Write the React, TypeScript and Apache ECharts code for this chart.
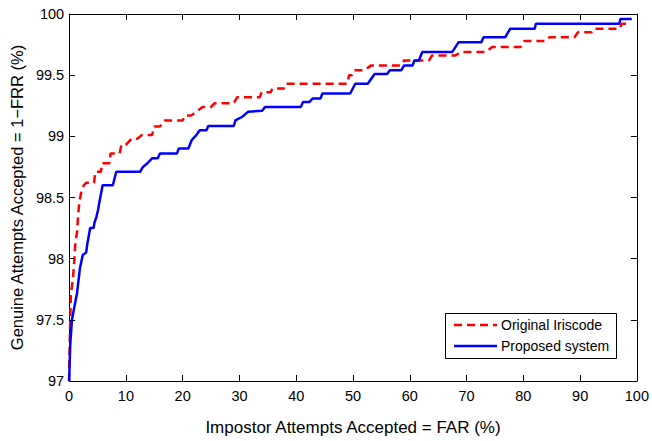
import React, { useEffect, useRef } from "react";
import * as echarts from "echarts";

const seriesNames = ["Original Iriscode", "Proposed system"];
const xTicks = [0, 10, 20, 30, 40, 50, 60, 70, 80, 90, 100];
const yTicks = [97, 97.5, 98, 98.5, 99, 99.5, 100];

const originalFAR = [0, 0.1, 0.3, 0.7, 0.9, 1.1, 1.4, 1.6, 1.8, 2.2, 2.6, 3.0, 4.4, 4.6, 5.6, 5.8, 7.1, 7.3, 8.9, 9.2, 10.0, 11.0, 12.0, 12.8, 14.6, 15.0, 16.0, 16.8, 20.0, 20.4, 21.5, 23.5, 25.0, 25.6, 29.0, 29.6, 33.6, 33.9, 35.5, 35.8, 37.8, 38.1, 49.0, 49.3, 49.8, 50.2, 52.0, 53.2, 58.4, 59.0, 63.4, 63.9, 68.0, 69.0, 73.4, 74.5, 79.5, 80.2, 84.0, 84.6, 89.0, 89.6, 92.0, 92.5, 97.0, 97.3, 98.8];
const originalGAR = [97.0, 97.3, 97.7, 97.85, 97.98, 98.13, 98.22, 98.36, 98.46, 98.56, 98.6, 98.62, 98.62, 98.71, 98.71, 98.78, 98.78, 98.86, 98.86, 98.93, 98.93, 98.98, 98.98, 99.01, 99.01, 99.08, 99.08, 99.13, 99.13, 99.17, 99.17, 99.24, 99.24, 99.27, 99.27, 99.32, 99.32, 99.36, 99.36, 99.39, 99.39, 99.43, 99.43, 99.5, 99.5, 99.54, 99.54, 99.58, 99.58, 99.62, 99.62, 99.66, 99.66, 99.69, 99.69, 99.73, 99.73, 99.78, 99.78, 99.81, 99.81, 99.85, 99.85, 99.88, 99.88, 99.92, 99.92];

const proposedFAR = [0, 0.2, 0.5, 0.9, 1.4, 1.9, 2.4, 3.0, 3.2, 3.4, 3.7, 4.3, 4.5, 4.8, 5.1, 5.4, 5.9, 7.7, 8.3, 12.5, 13.0, 13.8, 14.6, 15.6, 16.0, 19.0, 19.3, 21.0, 21.6, 22.4, 23.0, 24.2, 24.5, 29.0, 29.3, 30.5, 31.5, 34.0, 34.5, 40.8, 41.2, 42.3, 42.9, 44.3, 44.6, 49.5, 50.4, 52.6, 53.8, 56.0, 56.5, 58.5, 59.0, 60.5, 60.8, 61.6, 62.2, 67.5, 68.6, 72.6, 73.0, 76.8, 77.7, 82.0, 82.2, 96.9, 97.1, 99.1];
const proposedGAR = [97.0, 97.3, 97.5, 97.6, 97.72, 97.92, 98.03, 98.05, 98.12, 98.17, 98.25, 98.25, 98.3, 98.34, 98.4, 98.48, 98.6, 98.6, 98.71, 98.71, 98.75, 98.78, 98.82, 98.82, 98.86, 98.86, 98.9, 98.9, 98.97, 99.01, 99.05, 99.05, 99.085, 99.085, 99.13, 99.16, 99.2, 99.21, 99.24, 99.24, 99.28, 99.28, 99.31, 99.31, 99.35, 99.35, 99.43, 99.43, 99.51, 99.51, 99.54, 99.54, 99.58, 99.58, 99.62, 99.62, 99.69, 99.69, 99.77, 99.77, 99.81, 99.81, 99.88, 99.88, 99.92, 99.92, 99.96, 99.96];

const FONT = "'Liberation Sans', Arial, Helvetica, sans-serif";

export default function App() {
  const ref = useRef<HTMLDivElement>(null);
  useEffect(() => {
    if (!ref.current) return;
    const chart = echarts.init(ref.current, undefined, { renderer: "svg" });
    const pair = (xs: number[], ys: number[]) => xs.map((x, i) => [x, ys[i]]);
    const baseX = {
      type: "value" as const,
      min: xTicks[0],
      max: xTicks[xTicks.length - 1],
      interval: 10,
      splitLine: { show: false },
      axisLine: { show: true, onZero: false, lineStyle: { color: "#000", width: 1 } },
      axisTick: { show: true, inside: true, length: 6, lineStyle: { color: "#000" } },
    };
    const baseY = {
      type: "value" as const,
      min: yTicks[0],
      max: yTicks[yTicks.length - 1],
      interval: 0.5,
      splitLine: { show: false },
      axisLine: { show: true, onZero: false, lineStyle: { color: "#000", width: 1 } },
      axisTick: { show: true, inside: true, length: 6, lineStyle: { color: "#000" } },
    };
    chart.setOption({
      animation: false,
      backgroundColor: "#fff",
      textStyle: { fontFamily: FONT },
      grid: { left: 66, right: 12, top: 14, bottom: 59, containLabel: false },
      xAxis: [
        {
          ...baseX,
          position: "bottom",
          name: "Impostor Attempts Accepted = FAR (%)",
          nameLocation: "middle",
          nameGap: 38,
          nameTextStyle: { color: "#000", fontSize: 17, fontFamily: FONT },
          axisLabel: { color: "#000", fontSize: 14.5, margin: 7, fontFamily: FONT },
        },
        { ...baseX, position: "top", axisLabel: { show: false } },
      ],
      yAxis: [
        {
          ...baseY,
          position: "left",
          name: "Genuine Attempts Accepted = 1\u2212FRR (%)",
          nameLocation: "middle",
          nameGap: 39,
          nameTextStyle: { color: "#000", fontSize: 16.5, fontFamily: FONT },
          axisLabel: { color: "#000", fontSize: 14.5, margin: 5, fontFamily: FONT },
        },
        { ...baseY, position: "right", axisLabel: { show: false } },
      ],
      series: [
        {
          name: seriesNames[0],
          type: "line",
          data: pair(originalFAR, originalGAR),
          showSymbol: false,
          symbol: "none",
          lineStyle: { color: "#ff0000", width: 2.5, type: [8, 5] },
          z: 2,
        },
        {
          name: seriesNames[1],
          type: "line",
          data: pair(proposedFAR, proposedGAR),
          showSymbol: false,
          symbol: "none",
          lineStyle: { color: "#0000ff", width: 2.5 },
          z: 3,
        },
      ],
      graphic: [
        {
          type: "rect",
          shape: { x: 445.5, y: 313.5, width: 171, height: 45 },
          style: { fill: "#fff", stroke: "#000", lineWidth: 1 },
          z: 10,
        },
        {
          type: "line",
          shape: { x1: 454, y1: 325, x2: 497, y2: 325 },
          style: { stroke: "#ff0000", lineWidth: 2.5, lineDash: [8, 5] },
          z: 11,
        },
        {
          type: "line",
          shape: { x1: 454, y1: 346, x2: 497, y2: 346 },
          style: { stroke: "#0000ff", lineWidth: 2.5 },
          z: 11,
        },
        {
          type: "text",
          x: 501,
          y: 325,
          style: { text: seriesNames[0], fill: "#000", font: `14px ${FONT}`, verticalAlign: "middle" },
          z: 11,
        },
        {
          type: "text",
          x: 501,
          y: 346,
          style: { text: seriesNames[1], fill: "#000", font: `14px ${FONT}`, verticalAlign: "middle" },
          z: 11,
        },
      ],
    });
    return () => chart.dispose();
  }, []);
  return <div ref={ref} style={{ width: 652, height: 441, position: "absolute", left: 0, top: 0 }} />;
}
